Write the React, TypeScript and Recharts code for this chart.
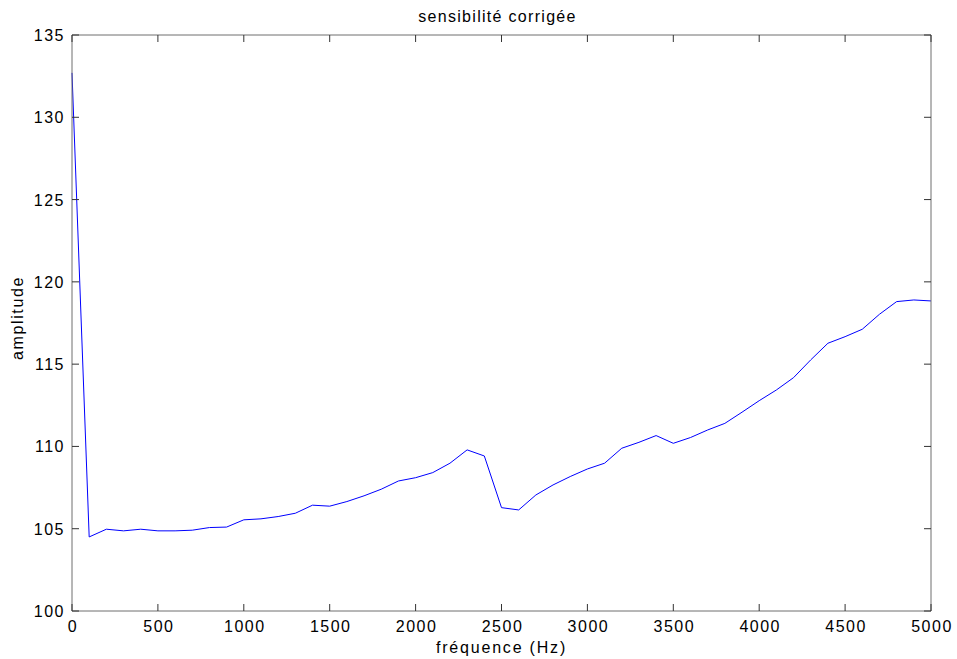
import React from 'react';
import { LineChart, Line, XAxis, YAxis } from 'recharts';

// frequency (Hz) and corrected sensitivity
const frequencies = [
  0, 100, 200, 300, 400, 500, 600, 700, 800, 900,
  1000, 1100, 1200, 1300, 1400, 1500, 1600, 1700, 1800, 1900,
  2000, 2100, 2200, 2300, 2400, 2500, 2600, 2700, 2800, 2900,
  3000, 3100, 3200, 3300, 3400, 3500, 3600, 3700, 3800, 3900,
  4000, 4100, 4200, 4300, 4400, 4500, 4600, 4700, 4800, 4900,
  5000,
];

const amplitudes = [
  132.7, 104.5, 104.97, 104.87, 104.97, 104.87, 104.87, 104.91, 105.07, 105.1,
  105.54, 105.6, 105.74, 105.94, 106.43, 106.37, 106.65, 107.0, 107.4, 107.9,
  108.1, 108.41, 108.98, 109.79, 109.42, 106.28, 106.14, 107.05, 107.66, 108.17,
  108.63, 108.98, 109.89, 110.25, 110.66, 110.19, 110.54, 111.0, 111.4, 112.08,
  112.78, 113.43, 114.18, 115.26, 116.27, 116.67, 117.12, 118.03, 118.8, 118.9,
  118.84,
];

const xTicks = [0, 500, 1000, 1500, 2000, 2500, 3000, 3500, 4000, 4500, 5000];
const yTicks = [100, 105, 110, 115, 120, 125, 130, 135];

const data = frequencies.map((freq, i) => ({ freq, amp: amplitudes[i] }));

const FONT = '"Liberation Sans", Arial, Helvetica, sans-serif';
const AXIS_COLOR = '#6e6e6e';
const TICK_COLOR = '#333';
const TICK_LEN = 7;
// recharts places the tick text at tickSize + tickMargin from the axis line
const TICK_SIZE = 6;
const TICK_MARGIN = 2;
const OFF = TICK_SIZE + TICK_MARGIN;

const textStyle: React.CSSProperties = { fontFamily: FONT, fontSize: 16, letterSpacing: 1.5 };

const BottomTick = (props: any) => {
  const { x, y, payload } = props;
  const ay = y - OFF;
  return (
    <g>
      <line x1={x} x2={x} y1={ay} y2={ay - TICK_LEN} stroke={TICK_COLOR} />
      <text x={x + 1} y={ay + 21} textAnchor="middle" fill="#000" style={textStyle}>
        {payload.value}
      </text>
    </g>
  );
};

const LeftTick = (props: any) => {
  const { x, y, payload } = props;
  const ax = x + OFF;
  return (
    <g>
      <line x1={ax} x2={ax + TICK_LEN} y1={y} y2={y} stroke={TICK_COLOR} />
      <text x={ax - 7} y={y + 6} textAnchor="end" fill="#000" style={textStyle}>
        {payload.value}
      </text>
    </g>
  );
};

const TopTick = (props: any) => {
  const { x, y } = props;
  const ay = y + OFF;
  return <line x1={x} x2={x} y1={ay} y2={ay + TICK_LEN} stroke={TICK_COLOR} />;
};

const RightTick = (props: any) => {
  const { x, y } = props;
  const ax = x - OFF;
  return <line x1={ax - TICK_LEN} x2={ax} y1={y} y2={y} stroke={TICK_COLOR} />;
};

const titleLabel = (props: any) => {
  const vb = props.viewBox;
  return (
    <text x={vb.x + vb.width / 2 - 4} y={22} textAnchor="middle" fill="#000" style={{ ...textStyle, letterSpacing: 1.3 }}>
      sensibilité corrigée
    </text>
  );
};

const xLabel = (props: any) => {
  const vb = props.viewBox;
  return (
    <text x={vb.x + vb.width / 2} y={653} textAnchor="middle" fill="#000" style={{ ...textStyle, letterSpacing: 1.8 }}>
      fréquence (Hz)
    </text>
  );
};

const yLabel = (props: any) => {
  const vb = props.viewBox;
  const cy = vb.y + vb.height / 2 - 5;
  return (
    <text transform={`translate(23, ${cy}) rotate(-90)`} textAnchor="middle" fill="#000" style={{ ...textStyle, letterSpacing: 1.6 }}>
      amplitude
    </text>
  );
};

export default function App() {
  return (
    <div style={{ position: 'absolute', left: 0, top: 0, width: 957, height: 659, background: '#fff' }}>
      <LineChart width={957} height={659} data={data} margin={{ top: 34, right: 25, bottom: 0, left: 0 }}>
        <XAxis
          xAxisId="bottom"
          dataKey="freq"
          type="number"
          domain={[0, 5000]}
          ticks={xTicks}
          interval={0}
          height={48}
          tickSize={TICK_SIZE}
          tickMargin={TICK_MARGIN}
          tickLine={false}
          axisLine={{ stroke: AXIS_COLOR }}
          tick={<BottomTick />}
          label={xLabel}
        />
        <XAxis
          xAxisId="top"
          orientation="top"
          dataKey="freq"
          type="number"
          domain={[0, 5000]}
          ticks={xTicks}
          interval={0}
          height={1}
          tickSize={TICK_SIZE}
          tickMargin={TICK_MARGIN}
          tickLine={false}
          axisLine={{ stroke: AXIS_COLOR }}
          tick={<TopTick />}
          label={titleLabel}
        />
        <YAxis
          yAxisId="left"
          type="number"
          domain={[100, 135]}
          ticks={yTicks}
          interval={0}
          width={72}
          tickSize={TICK_SIZE}
          tickMargin={TICK_MARGIN}
          tickLine={false}
          axisLine={{ stroke: AXIS_COLOR }}
          tick={<LeftTick />}
          label={yLabel}
        />
        <YAxis
          yAxisId="right"
          orientation="right"
          type="number"
          domain={[100, 135]}
          ticks={yTicks}
          interval={0}
          width={1}
          tickSize={TICK_SIZE}
          tickMargin={TICK_MARGIN}
          tickLine={false}
          axisLine={{ stroke: AXIS_COLOR }}
          tick={<RightTick />}
        />
        <Line
          xAxisId="top"
          yAxisId="right"
          dataKey="amp"
          stroke="none"
          dot={false}
          activeDot={false}
          isAnimationActive={false}
        />
        <Line
          xAxisId="bottom"
          yAxisId="left"
          type="linear"
          dataKey="amp"
          stroke="#0000ff"
          strokeWidth={1}
          dot={false}
          isAnimationActive={false}
        />
      </LineChart>
    </div>
  );
}
